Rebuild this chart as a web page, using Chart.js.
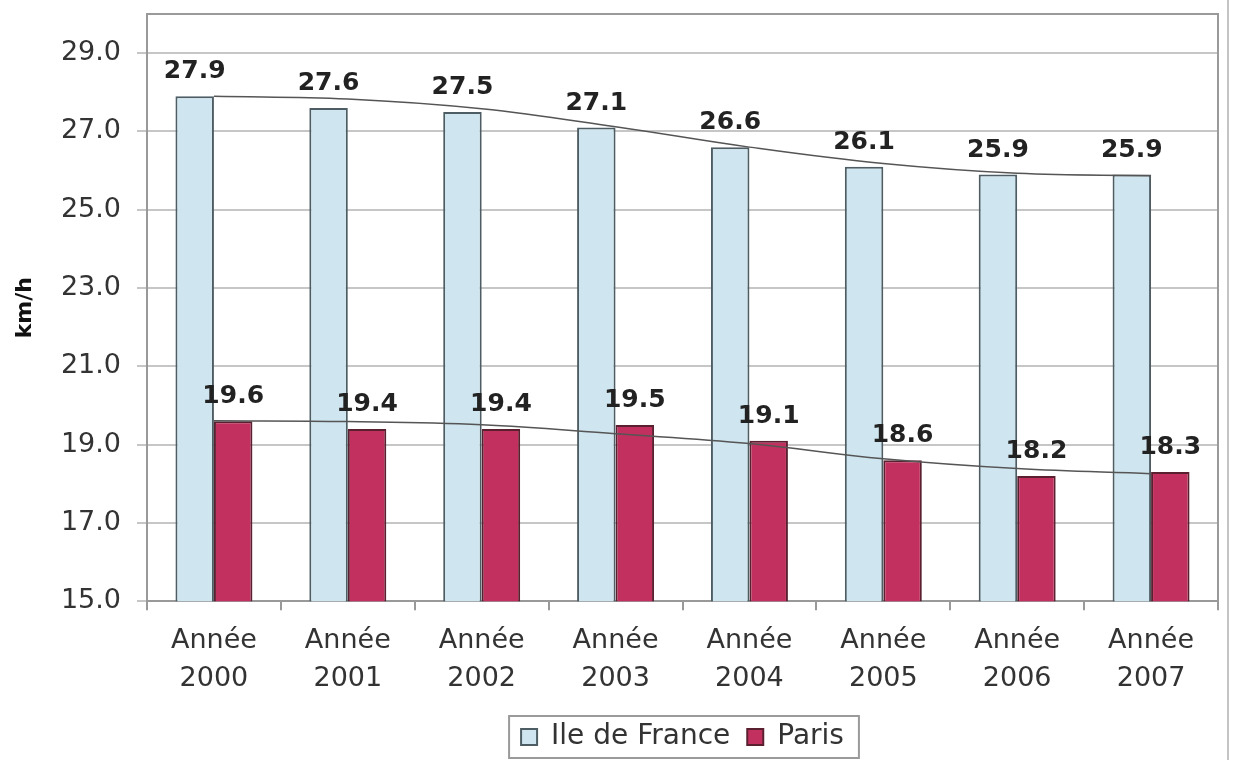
<!DOCTYPE html>
<html>
<head>
<meta charset="utf-8">
<script src="https://cdn.jsdelivr.net/npm/chart.js@4.4.1/dist/chart.umd.min.js"></script>
<style>
  html, body { margin: 0; padding: 0; background: #fff; }
  #wrap { width: 1234px; height: 760px; position: relative; }
</style>
</head>
<body>
<div id="wrap"><canvas id="myChart" width="1234" height="760"></canvas></div>
<script>
'use strict';

// vitesse moyenne, km/h
var years = ['2000', '2001', '2002', '2003', '2004', '2005', '2006', '2007'];
var ileDeFrance = [27.9, 27.6, 27.5, 27.1, 26.6, 26.1, 25.9, 25.9];
var paris = [19.6, 19.4, 19.4, 19.5, 19.1, 18.6, 18.2, 18.3];
// courbes de tendance
var trendIdf = [27.9, 27.83, 27.58, 27.12, 26.6, 26.18, 25.93, 25.87];
var trendParis = [19.61, 19.59, 19.51, 19.28, 19.03, 18.64, 18.39, 18.26];
var yTicks = [15, 17, 19, 21, 23, 25, 27, 29];

var FONT = '"DejaVu Sans", Verdana, sans-serif';
var labels = years.map(function (y) { return ['Année', y]; });

var barLabels = {
    id: 'barLabels',
    afterDatasetsDraw: function (chart) {
        var ctx = chart.ctx;
        ctx.save();
        ctx.font = 'bold 25px ' + FONT;
        ctx.fillStyle = '#222';
        ctx.textAlign = 'center';
        ctx.textBaseline = 'alphabetic';
        [0, 1].forEach(function (i) {
            var meta = chart.getDatasetMeta(i);
            meta.data.forEach(function (bar, j) {
                ctx.fillText(chart.data.datasets[i].data[j].toFixed(1), bar.x, bar.y - 18);
            });
        });
        ctx.restore();
    }
};

// legende centree sous la zone de trace
var legendShift = {
    id: 'legendShift',
    afterLayout: function (chart) {
        var lg = chart.legend;
        var a = chart.chartArea;
        var d = (a.left + a.right) / 2 - (lg.left + lg.right) / 2;
        lg.left += d;
        lg.right += d;
        lg.top -= 3;
        lg.bottom -= 3;
    }
};

var frame = {
    id: 'frame',
    afterDraw: function (chart) {
        var ctx = chart.ctx;
        var a = chart.chartArea;
        ctx.save();
        ctx.strokeStyle = '#9a9a9a';
        ctx.lineWidth = 2;
        ctx.beginPath();
        ctx.moveTo(a.left, a.top);
        ctx.lineTo(a.right, a.top);
        ctx.lineTo(a.right, a.bottom);
        ctx.stroke();
        // cadre exterieur a droite
        ctx.strokeStyle = '#c4c4c4';
        ctx.beginPath();
        ctx.moveTo(chart.width - 6, 0);
        ctx.lineTo(chart.width - 6, chart.height);
        ctx.stroke();
        // cadre de la legende
        var boxes = chart.legend.legendHitBoxes;
        if (boxes && boxes.length) {
            var l = Math.min.apply(null, boxes.map(function (b) { return b.left; }));
            var r = Math.max.apply(null, boxes.map(function (b) { return b.left + b.width; }));
            var t = Math.min.apply(null, boxes.map(function (b) { return b.top; }));
            var bt = Math.max.apply(null, boxes.map(function (b) { return b.top + b.height; }));
            ctx.strokeStyle = '#9a9a9a';
            ctx.strokeRect(l - 12, t - 7, r - l + 27, bt - t + 14);
        }
        ctx.restore();
    }
};

var ctx = document.getElementById('myChart').getContext('2d');
var myChart = new Chart(ctx, {
    type: 'bar',
    data: {
        labels: labels,
        datasets: [{
            label: 'Ile de France',
            data: ileDeFrance,
            backgroundColor: '#cfe5ef',
            borderColor: '#4d5d63',
            borderWidth: 2,
            borderSkipped: 'bottom',
            order: 2
        }, {
            label: 'Paris',
            data: paris,
            backgroundColor: '#c2305f',
            borderColor: '#5a2030',
            borderWidth: 2,
            borderSkipped: 'bottom',
            order: 2
        }, {
            type: 'line',
            label: 'tendance IdF',
            data: trendIdf,
            borderColor: '#555',
            borderWidth: 1.5,
            pointRadius: 0,
            tension: 0.4,
            fill: false,
            order: 1
        }, {
            type: 'line',
            label: 'tendance Paris',
            data: trendParis,
            borderColor: '#555',
            borderWidth: 1.5,
            pointRadius: 0,
            tension: 0.4,
            fill: false,
            order: 1
        }]
    },
    options: {
        responsive: false,
        animation: false,
        layout: { padding: { top: 14, right: 16, left: 0, bottom: -4 } },
        datasets: {
            bar: { categoryPercentage: 0.575, barPercentage: 1 }
        },
        plugins: {
            tooltip: { enabled: false },
            legend: {
                position: 'bottom',
                labels: {
                    boxWidth: 16,
                    boxHeight: 16,
                    padding: 17,
                    color: '#333',
                    font: { family: FONT, size: 28 },
                    filter: function (item) { return item.datasetIndex < 2; }
                }
            }
        },
        scales: {
            x: {
                offset: true,
                grid: { offset: true, drawOnChartArea: false, drawTicks: true, tickLength: 9, color: '#999', lineWidth: 2 },
                border: { display: true, color: '#999', width: 2 },
                ticks: {
                    color: '#333',
                    padding: 11,
                    maxRotation: 0,
                    font: { family: FONT, size: 27, lineHeight: 1.42 }
                }
            },
            y: {
                min: 15,
                max: 30,
                afterBuildTicks: function (scale) {
                    scale.ticks = yTicks.map(function (v) { return { value: v }; });
                },
                afterFit: function (scale) {
                    scale.width = 147;
                    scale.paddingTop = 0;
                },
                grid: { color: '#c6c6c6', lineWidth: 2, tickLength: 10 },
                border: { display: true, color: '#999', width: 2 },
                title: {
                    display: true,
                    text: 'km/h',
                    color: '#111',
                    padding: { top: 12, bottom: 0 },
                    font: { family: FONT, size: 22, weight: 'bold' }
                },
                ticks: {
                    color: '#333',
                    padding: 16,
                    font: { family: FONT, size: 27 },
                    callback: function (v) { return v.toFixed(1); }
                }
            }
        }
    },
    plugins: [barLabels, legendShift, frame]
});
</script>
</body>
</html>
